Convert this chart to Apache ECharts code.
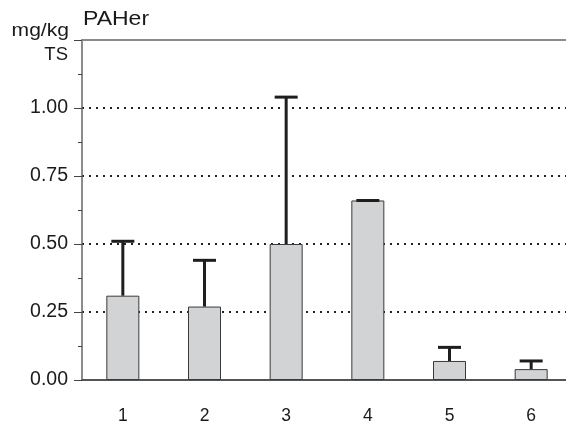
<!DOCTYPE html>
<html>
<head>
<meta charset="utf-8">
<script src="https://cdn.jsdelivr.net/npm/echarts@6/dist/echarts.min.js"></script>
<style>html,body{margin:0;padding:0;background:#fff}#c{width:566px;height:427px}</style>
</head>
<body>
<div id="c"></div>
<script>
const categories = ['1', '2', '3', '4', '5', '6'];
const means = [0.31, 0.27, 0.50, 0.66, 0.07, 0.04];
const errTops = [0.51, 0.44, 1.04, 0.66, 0.12, 0.07];
const yTicks = [0, 0.25, 0.5, 0.75, 1.0];

const chart = echarts.init(document.getElementById('c'), null, {renderer: 'canvas'});
const FONT = 'Liberation Sans, Arial, Helvetica, sans-serif';

chart.setOption({
  animation: false,
  backgroundColor: '#fff',
  grid: {left: 82, top: 40, width: 490, height: 340, containLabel: false, outerBoundsMode: 'none'},
  graphic: [
    {type: 'text', x: 83, y: 10, scaleX: 1.18, style: {text: 'PAHer', font: '19.5px ' + FONT, fill: '#1a1a1a', textAlign: 'left', textVerticalAlign: 'top'}},
    {type: 'text', x: 69, y: 21, scaleX: 1.14, style: {text: 'mg/kg', font: '18.5px ' + FONT, fill: '#1a1a1a', textAlign: 'right', textVerticalAlign: 'top'}},
    {type: 'text', x: 68, y: 45, style: {text: 'TS', font: '18.5px ' + FONT, fill: '#1a1a1a', textAlign: 'right', textVerticalAlign: 'top'}}
  ],
  xAxis: [
    {
      type: 'category', data: categories, position: 'bottom',
      axisLine: {lineStyle: {color: '#555', width: 2}},
      axisTick: {show: false},
      axisLabel: {fontFamily: FONT, fontSize: 17.5, color: '#1a1a1a', margin: 27},
      splitLine: {show: false}
    },
    {
      type: 'category', data: categories, position: 'top',
      axisLine: {lineStyle: {color: '#8a8a8a', width: 2}},
      axisTick: {show: false}, axisLabel: {show: false}, splitLine: {show: false}
    }
  ],
  yAxis: {
    type: 'value', min: 0, max: 1.25, interval: 0.25,
    axisLine: {show: true, lineStyle: {color: '#666', width: 1.5}},
    axisTick: {show: true, length: 8, lineStyle: {color: '#444', width: 1}},
    minorTick: {show: true, splitNumber: 2, length: 4, lineStyle: {color: '#444', width: 1}},
    axisLabel: {
      fontFamily: FONT, fontSize: 19.5, color: '#1a1a1a', margin: 14,
      formatter: function (v) { return yTicks.some(t => Math.abs(t - v) < 1e-9) ? v.toFixed(2) : ''; }
    },
    splitLine: {show: true, lineStyle: {color: '#222', width: 2, type: [2, 5]}}
  },
  series: [
    {
      type: 'bar', data: means, barWidth: 33, xAxisIndex: 0,
      itemStyle: {color: '#d2d3d5', borderColor: '#3a3a3a', borderWidth: 1},
      z: 2
    },
    {
      type: 'custom', xAxisIndex: 0, z: 3,
      data: categories.map((c, i) => [i, means[i], errTops[i]]),
      renderItem: function (params, api) {
        const x = api.value(0);
        const base = api.coord([x, api.value(1)]);
        const top = api.coord([x, api.value(2)]);
        const half = 11.5;
        return {
          type: 'group',
          children: [
            {type: 'line', shape: {x1: base[0], y1: base[1], x2: top[0], y2: top[1]}, style: {stroke: '#1e1e1e', lineWidth: 3}},
            {type: 'line', shape: {x1: top[0] - half, y1: top[1], x2: top[0] + half, y2: top[1]}, style: {stroke: '#1e1e1e', lineWidth: 3}}
          ]
        };
      }
    }
  ]
});
</script>
</body>
</html>
